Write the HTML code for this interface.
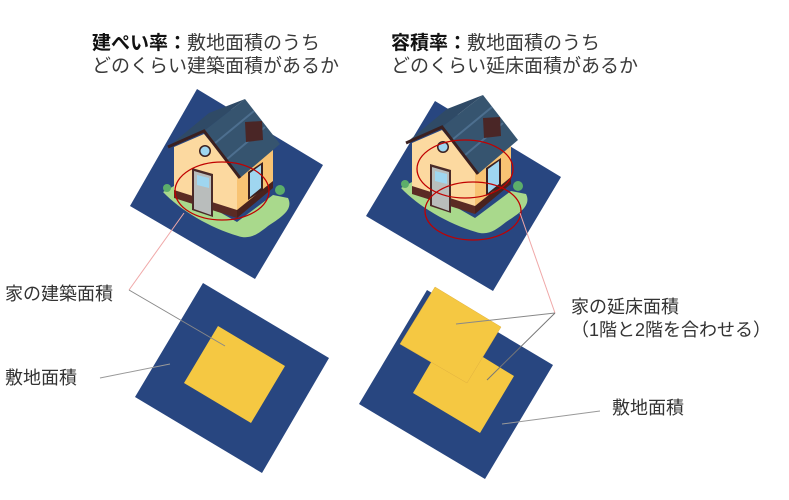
<!DOCTYPE html>
<html><head><meta charset="utf-8"><style>
html,body{margin:0;padding:0;background:#fff;}
body{width:789px;height:500px;overflow:hidden;position:relative;font-family:"Liberation Sans","Noto Sans CJK JP",sans-serif;color:#3a3a3a;}
.t{position:absolute;font-size:19px;line-height:23px;white-space:nowrap;}
.t b{color:#111;}
.l{position:absolute;font-size:18px;line-height:23px;white-space:nowrap;color:#333;}
svg{position:absolute;left:0;top:0;}
</style></head><body>
<svg width="789" height="500" viewBox="0 0 789 500">
<defs>
<g id="house">
 <path d="M163,192 L174,186 L237,222 L273,195 L288,198 C294,210 280,218 268,226 C258,234 250,240 238,236 C210,228 180,210 163,192 Z" fill="#a9d98c"/>
 <circle cx="167" cy="188" r="4" fill="#5cae6a"/><circle cx="280" cy="190" r="5" fill="#5cae6a"/>
 <polygon points="174,147 204,134 237,174 237,217 174,197" fill="#fcd9a0"/>
 <polygon points="237,174 273,145 273,187 237,217" fill="#f8c373"/>
 <polygon points="174,190 237,210 237,218 174,198" fill="#5b2b24"/>
 <polygon points="237,210 273,181 273,188 237,218" fill="#4a221d"/>
 <polygon points="168,147 204,131 245,99 209,113" fill="#2f4a66"/>
 <polygon points="204,131 240,178 280,144 245,99" fill="#36546f"/>
 <line x1="214" y1="144" x2="254" y2="111" stroke="#4d6f8f" stroke-width="2"/>
 <line x1="226" y1="160" x2="265" y2="127" stroke="#4d6f8f" stroke-width="2"/>
 <polyline points="168,147 204,131 240,178" fill="none" stroke="#3b2020" stroke-width="3"/>
 <polygon points="245,122 262,121 263,140 246,142" fill="#4a2626"/>
 <polygon points="192,168 213,174 213,217 192,210" fill="#4a2a28"/>
 <polygon points="194,171 211,176 211,215 194,209" fill="#b9bdbc"/>
 <polygon points="197,175 209,178 209,188 197,185" fill="#9fd6f0"/>
 <circle cx="205" cy="151" r="6" fill="#3b2020"/><circle cx="205" cy="151" r="4.5" fill="#9fd6f0"/>
 <polygon points="248,172 263,162 263,190 248,200" fill="#3b2020"/>
 <polygon points="250,173 261,165 261,188 250,197" fill="#9fd6f0"/>
</g>
</defs>
<polygon points="197,89 323,165 255,279 130,206" fill="#284680"/>
<use href="#house"/>
<ellipse cx="222" cy="191" rx="47" ry="29" fill="none" stroke="#c00000" stroke-width="1.3"/>
<polygon points="435,101 561,177 493,291 366,216" fill="#284680"/>
<use href="#house" transform="translate(238,-4)"/>
<ellipse cx="465" cy="169" rx="48" ry="29" fill="none" stroke="#c00000" stroke-width="1.3"/>
<ellipse cx="473" cy="211" rx="48" ry="29" fill="none" stroke="#c00000" stroke-width="1.3"/>
<polygon points="203,283 329,358 262,473 135,397" fill="#284680"/>
<polygon points="218,326 285,366 251,423 184,383" fill="#f5c842"/>
<polygon points="427,290 553,365 485,479 359,404" fill="#284680"/>
<polygon points="447,335 514,376 480,433 413,393" fill="#f5c842"/>
<polygon points="435,287 501,327 467,383 400,344" fill="#f5c842" stroke="#e0b040" stroke-width="0.5"/>
<g fill="none" stroke-width="1">
<line x1="129" y1="290" x2="184" y2="213" stroke="#f0a8a8"/>
<line x1="129" y1="290" x2="225" y2="346" stroke="#888"/>
<line x1="100" y1="378" x2="170" y2="364" stroke="#999"/>
<line x1="520" y1="213" x2="555" y2="313" stroke="#f0a8a8"/>
<line x1="555" y1="313" x2="456" y2="324" stroke="#888"/>
<line x1="555" y1="313" x2="487" y2="380" stroke="#777"/>
<line x1="600" y1="411" x2="502" y2="424" stroke="#999"/>
</g>
</svg>
<div class="t" style="left:92px;top:32px;"><b>建ぺい率：</b>敷地面積のうち<br>どのくらい建築面積があるか</div>
<div class="t" style="left:391px;top:32px;"><b>容積率：</b>敷地面積のうち<br>どのくらい延床面積があるか</div>
<div class="l" style="left:5px;top:283px;">家の建築面積</div>
<div class="l" style="left:5px;top:367px;">敷地面積</div>
<div class="l" style="left:571px;top:296px;">家の延床面積<br>（1階と2階を合わせる）</div>
<div class="l" style="left:612px;top:397px;">敷地面積</div>
</body></html>
